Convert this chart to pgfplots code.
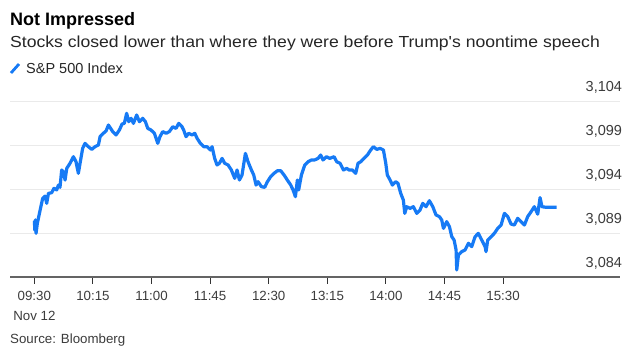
\documentclass[border=0pt]{standalone}
\usepackage{pgfplots}
\pgfplotsset{compat=1.18}
\usepackage{fontspec}
\setmainfont{Liberation Sans}
\newfontfamily\subfont{Liberation Sans}[FakeStretch=1.1]
\definecolor{bblue}{RGB}{22,122,245}
\definecolor{gridc}{RGB}{234,234,234}
\definecolor{txtc}{RGB}{60,60,60}
\definecolor{axc}{RGB}{100,100,100}
\begin{document}
\begin{tikzpicture}
\useasboundingbox (0pt,0pt) rectangle (632pt,-354pt);
\fill[white] (0pt,0pt) rectangle (632pt,-354pt);
\node[anchor=base west,inner sep=0pt] at (10pt,-25pt) {\fontsize{18}{21}\selectfont\bfseries Not Impressed};
\node[anchor=base west,inner sep=0pt,text=black!85] at (10pt,-47pt) {\subfont\fontsize{16}{19}\selectfont Stocks closed lower than where they were before Trump's noontime speech};
\draw[bblue,line width=2.8pt] (11pt,-73pt) -- (19pt,-64pt);
\node[anchor=base west,inner sep=0pt,text=black!85] at (26pt,-73pt) {\fontsize{14.5}{17}\selectfont S\&P 500 Index};
\node[anchor=base west,inner sep=0pt,text=txtc] at (10pt,-343pt) {\fontsize{13.3}{16}\selectfont Source: Bloomberg};
\begin{axis}[
  at={(10pt,-277pt)}, anchor=south west,
  scale only axis, width=610pt, height=176pt,
  xmin=-18.7, xmax=449.8, ymin=3084, ymax=3104,
  axis x line*=bottom, axis y line*=right,
  y axis line style={draw=none},
  x axis line style={draw=axc, line width=1.3pt},
  xtick={0,45,90,135,180,225,270,315,360},
  xticklabels={{09:30\\Nov 12},10:15,11:00,11:45,12:30,13:15,14:00,14:45,15:30},
  xticklabel style={align=center, font=\fontsize{13.3}{20}\selectfont, text=txtc, yshift=-4pt},
  tick align=outside, major tick length=6.5pt,
  xtick style={draw=black!80, line width=0.9pt},
  ytick={3084,3089,3094,3099,3104},
  ytick style={draw=none},
  yticklabel pos=right,
  yticklabel style={anchor=south east, xshift=-1pt, yshift=4pt, font=\fontsize{14.5}{16}\selectfont, text=txtc},
  /pgf/number format/.cd, 1000 sep={,}, assume math mode=true,
  /pgfplots/.cd,
  ymajorgrids, grid style={draw=gridc, line width=1pt},
  clip=false,
]
\addplot[bblue, line width=3.2pt, line join=round] coordinates {
(0,3090.4) (0.4,3089.3) (0.8,3090.5) (1.3,3088.96) (2.3,3090.1) (3.9,3091.23) (6.4,3092.94)
(8.2,3093.2) (9.5,3092.37) (10.8,3093.5) (13.3,3093.58) (15.1,3094.08) (17.2,3093.9)
(18.5,3094.45) (19.7,3094.19) (21.0,3096.16) (22.3,3095.97) (23.6,3095.02) (24.9,3096.35)
(27.4,3096.92) (30.0,3097.67) (32.0,3097.1) (33.8,3095.78) (35.1,3096.92) (37.1,3098.62)
(38.9,3099.19) (41.5,3098.81) (44.1,3098.5) (46.6,3098.81) (49.2,3099.0) (50.5,3099.95)
(53.0,3100.33) (55.1,3100.6) (56.9,3101.27) (60.2,3100.52) (62.7,3100.14) (65.3,3100.7)
(67.4,3101.39) (69.1,3101.46) (70.9,3102.6) (72.5,3101.65) (74.3,3102.03) (76.1,3101.46)
(78.6,3102.41) (80.7,3101.65) (83.2,3102.03) (85.3,3101.65) (87.1,3100.89) (89.6,3100.7)
(92.2,3100.33) (94.8,3099.19) (96.5,3099.95) (98.6,3100.52) (101.2,3100.33) (103.7,3100.52)
(106.3,3101.08) (108.8,3100.89) (110.9,3101.46) (113.4,3101.08) (114.7,3100.7) (116.5,3099.95)
(118.6,3100.33) (121.1,3100.14) (123.2,3100.33) (125.0,3099.76) (127.5,3099.19) (130.1,3098.81)
(132.6,3098.81) (135.2,3098.43) (136.5,3098.81) (138.5,3097.48) (140.3,3096.73) (142.1,3096.92)
(144.2,3097.48) (146.2,3096.92) (148.8,3096.73) (151.3,3096.16) (153.9,3095.21) (155.7,3096.16)
(157.5,3095.02) (159.5,3095.59) (162.1,3098.05) (164.1,3097.1) (166.7,3096.16) (168.5,3095.59)
(170.3,3094.45) (171.8,3094.83) (174.4,3094.27) (176.9,3094.19) (179.0,3094.83) (181.5,3095.4)
(184.1,3095.78) (186.7,3096.08) (189.2,3096.08) (191.8,3095.59) (194.3,3095.02) (196.9,3094.45)
(198.7,3093.89) (200.5,3093.13) (202.0,3095.02) (203.0,3093.89) (205.1,3095.59) (207.7,3096.73)
(210.2,3097.1) (212.8,3097.3) (215.3,3097.3) (217.9,3097.48) (219.9,3097.86) (221.7,3097.3)
(224.3,3097.67) (226.9,3097.48) (230.2,3097.67) (232.2,3097.1) (234.8,3096.92) (237.4,3096.16)
(239.9,3096.35) (241.7,3096.16) (244.3,3096.16) (246.8,3095.78) (248.6,3096.92) (250.7,3097.1)
(253.2,3097.48) (255.8,3097.86) (258.3,3098.43) (260.4,3098.81) (263.0,3098.5) (265.5,3098.62)
(268.1,3098.43) (269.9,3096.92) (271.1,3095.59) (273.2,3095.02) (275.0,3094.45) (277.5,3094.83)
(279.3,3094.64) (281.4,3093.5) (283.4,3092.75) (284.5,3091.23) (286.0,3091.99) (288.6,3091.8)
(291.1,3091.99) (293.7,3091.23) (296.2,3091.61) (298.3,3092.37) (300.8,3091.99) (303.4,3092.67)
(306.0,3091.99) (308.5,3091.05) (311.1,3090.86) (312.9,3090.48) (314.2,3089.53) (316.7,3090.29)
(318.8,3089.72) (320.6,3088.58) (322.4,3088.2) (323.9,3087.07) (324.4,3084.8) (325.7,3086.5)
(328.2,3086.88) (330.8,3087.07) (333.4,3087.83) (335.9,3087.45) (338.5,3088.58) (341.0,3088.96)
(343.6,3088.2) (346.2,3087.45) (346.9,3086.88) (348.2,3088.2) (350.8,3088.58) (353.3,3088.96)
(355.9,3089.53) (358.5,3089.91) (361.0,3091.23) (363.6,3090.86) (366.1,3090.02) (368.7,3089.91)
(371.2,3090.67) (373.8,3090.29) (376.4,3089.91) (378.9,3090.86) (381.5,3091.42) (384.0,3091.99)
(386.6,3091.14) (388.4,3093.02) (389.9,3091.99) (393.0,3091.92) (396.9,3091.92) (401.2,3091.92)
};
\end{axis}
\end{tikzpicture}
\end{document}
